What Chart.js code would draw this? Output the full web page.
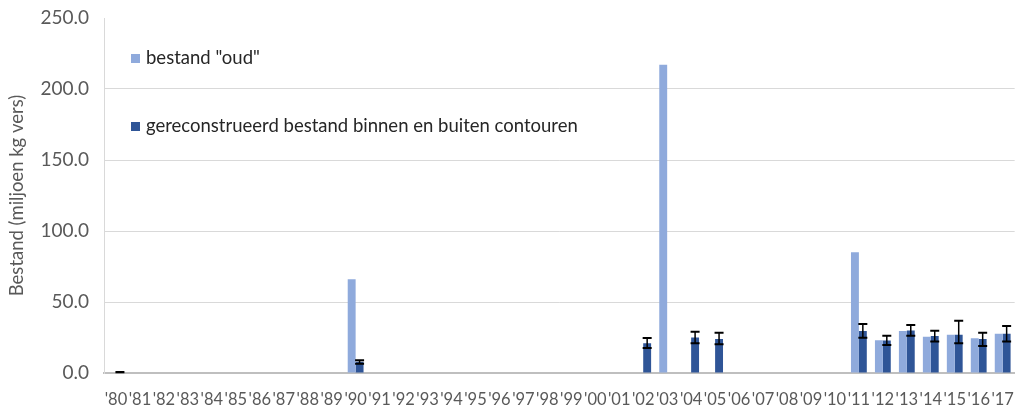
<!DOCTYPE html>
<html>
<head>
<meta charset="utf-8">
<script src="https://cdn.jsdelivr.net/npm/chart.js@4"></script>
<style>
  body { margin: 0; background: #fff; }
  #wrap { position: relative; width: 1023px; height: 405px; }
  .leg { position: absolute; font-family: Lato, sans-serif; font-size: 18.5px; line-height: 22px; color: #262626; white-space: nowrap; }
  .leg span { display: inline-block; width: 9px; height: 9px; margin-right: 6px; vertical-align: 1px; }
</style>
</head>
<body>
<div id="wrap">
  <canvas id="chart" width="1023" height="405"></canvas>
  <div class="leg" style="left:131px; top:46px;"><span style="background:#8faadc"></span>bestand "oud"</div>
  <div class="leg" style="left:131px; top:114px;"><span style="background:#2f5597"></span>gereconstrueerd bestand binnen en buiten contouren</div>
</div>
<script>
// Jaren
const years = ["'80","'81","'82","'83","'84","'85","'86","'87","'88","'89","'90","'91","'92","'93","'94","'95","'96","'97","'98","'99","'00","'01","'02","'03","'04","'05","'06","'07","'08","'09","'10","'11","'12","'13","'14","'15","'16","'17"];

// bestand "oud"
const oud = [null,null,null,null,null,null,null,null,null,null,66,null,null,null,null,null,null,null,null,null,null,null,null,217,null,null,null,null,null,null,null,85,23,29.6,25.6,27,24.4,27.7];

// gereconstrueerd bestand
const nieuw = [0.6,null,null,null,null,null,null,null,null,null,8,null,null,null,null,null,null,null,null,null,null,null,21,null,25,24,null,null,null,null,null,29.6,22.8,30,26,27,24,27.7];
const nieuwLaag = [0.5,null,null,null,null,null,null,null,null,null,6.5,null,null,null,null,null,null,null,null,null,null,null,17.6,null,21,20.2,null,null,null,null,null,24.9,19.7,26.3,22.1,20.9,19,22.1];
const nieuwHoog = [0.7,null,null,null,null,null,null,null,null,null,9,null,null,null,null,null,null,null,null,null,null,null,24.6,null,29,28.4,null,null,null,null,null,34.5,26.3,33.8,29.8,36.8,28.4,33.1];

// Foutbalken tekenen
const errorBars = {
  id: 'errorBars',
  afterDatasetsDraw(chart) {
    const ctx = chart.ctx;
    const meta = chart.getDatasetMeta(1);
    const y = chart.scales.y;
    ctx.save();
    ctx.strokeStyle = '#000';
    nieuwLaag.forEach((lo, i) => {
      if (lo == null) return;
      const x = meta.data[i].x;
      const yl = y.getPixelForValue(lo);
      const yh = y.getPixelForValue(nieuwHoog[i]);
      ctx.lineWidth = 1.5;
      ctx.beginPath();
      ctx.moveTo(x, yl); ctx.lineTo(x, yh);
      ctx.stroke();
      ctx.lineWidth = 2;
      ctx.beginPath();
      ctx.moveTo(x - 4.5, yl); ctx.lineTo(x + 4.5, yl);
      ctx.moveTo(x - 4.5, yh); ctx.lineTo(x + 4.5, yh);
      ctx.stroke();
    });
    ctx.restore();
  }
};

new Chart(document.getElementById('chart'), {
  type: 'bar',
  data: {
    labels: years,
    datasets: [
      { label: 'bestand "oud"', data: oud, backgroundColor: '#8faadc' },
      { label: 'gereconstrueerd bestand binnen en buiten contouren', data: nieuw, backgroundColor: '#2f5597' }
    ]
  },
  options: {
    responsive: false,
    animation: false,
    layout: { padding: { top: 0, right: 5, left: 0, bottom: 0 } },
    datasets: { bar: { categoryPercentage: 0.66, barPercentage: 1.0 } },
    plugins: { legend: { display: false }, tooltip: { enabled: false } },
    scales: {
      x: {
        grid: { display: false },
        border: { color: '#bfbfbf', width: 2 },
        ticks: { autoSkip: false, maxRotation: 0, minRotation: 0, padding: 9, color: '#595959', font: { family: 'Lato', size: 16.5 } },
        afterFit(scale) { scale.height = 32; }
      },
      y: {
        min: 0, max: 250,
        grid: { drawTicks: false, color: ctx => ctx.tick.value === 250 ? 'rgba(0,0,0,0)' : '#d9d9d9' },
        border: { color: '#d9d9d9' },
        ticks: { stepSize: 50, padding: 15, color: '#595959', font: { family: 'Lato', size: 19 }, callback: v => v.toFixed(1) },
        title: { display: true, text: 'Bestand (miljoen kg vers)', color: '#595959', font: { family: 'Lato', size: 18.5 }, padding: { top: 6, bottom: 0 } },
        afterFit(scale) { scale.width = 104; scale.paddingTop = 18; scale.paddingBottom = 10; }
      }
    }
  },
  plugins: [errorBars]
});
</script>
</body>
</html>
